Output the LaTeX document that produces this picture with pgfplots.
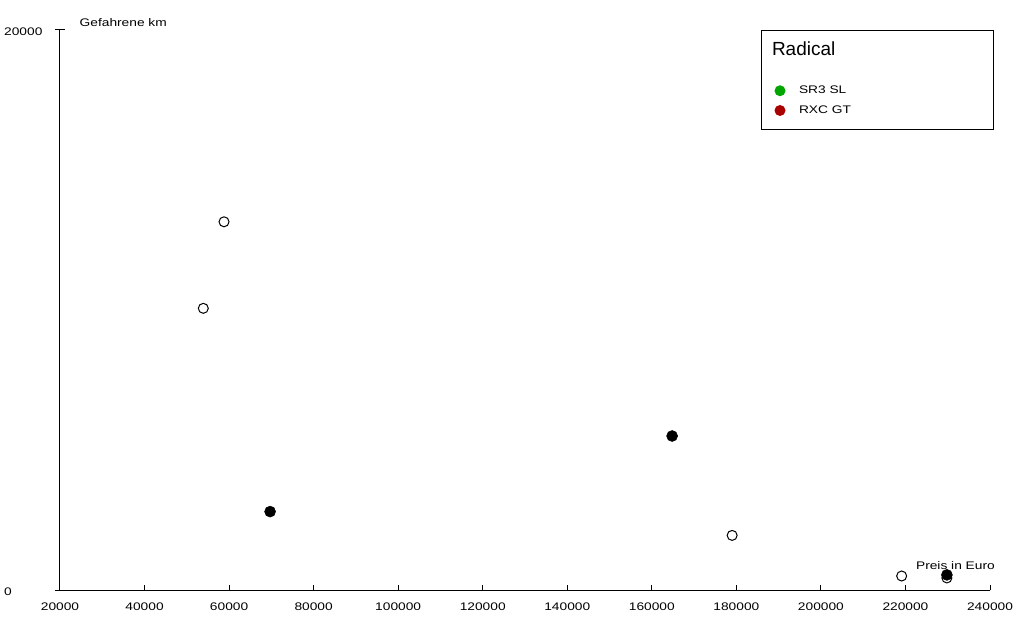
\documentclass[border=0pt]{standalone}
\usepackage{fontspec}
\setmainfont{Liberation Sans}[FakeStretch=1.25]
\newfontfamily\titlefont{Liberation Sans}
\usepackage{pgfplots}
\pgfplotsset{compat=1.18}
\definecolor{srgreen}{RGB}{0,165,0}
\definecolor{rxcred}{RGB}{170,0,0}

\begin{document}
\begin{tikzpicture}
\path[use as bounding box] (-60bp,-30bp) rectangle (960bp,590bp);
\begin{axis}[
  at={(0,0)}, anchor=south west,
  scale only axis, width=930bp, height=560bp,
  xmin=20000, xmax=240000, ymin=0, ymax=20000,
  axis x line=bottom, axis y line=left,
  axis line style={-, line width=1bp, black},
  xtick={20000,40000,...,240000},
  xticklabels={20000,40000,60000,80000,100000,120000,140000,160000,180000,200000,220000,240000},
  ytick={0,20000},
  yticklabels={0,20000},
  scaled ticks=false,
  tick align=inside,
  major tick length=5bp,
  tick style={line width=1bp, black},
  extra y ticks={0,20000},
  extra y tick labels={,},
  extra y tick style={tick align=outside},
  font=\fontsize{11bp}{13bp}\selectfont,
  xticklabel style={anchor=north, inner sep=0pt, yshift=-13bp},
  yticklabel style={anchor=west, inner sep=0pt, xshift=-56bp, yshift=-1.5bp},
  xlabel={Preis in Euro},
  ylabel={Gefahrene km},
  every axis x label/.style={at={(axis description cs:1,0)}, anchor=base east, inner sep=0pt, xshift=5bp, yshift=21bp},
  every axis y label/.style={at={(axis description cs:0,1)}, anchor=base west, inner sep=0pt, xshift=19.5bp, yshift=3bp},
  legend style={at={(axis description cs:1,1)}, anchor=north east, xshift=4bp,
    draw=black, line width=1bp, inner sep=0pt, row sep=0pt, column sep=3.5bp,
    nodes={inner sep=0pt}, font=\fontsize{11bp}{13bp}\selectfont},
  legend cell align=left,
]

% SR3 SL (hollow markers)
\addplot[only marks, mark=o, mark size=5bp, mark options={draw=black, fill=white, line width=1bp}, forget plot]
  coordinates {(58800,13150) (53900,10060) (179000,1950) (219100,500) (229800,430)};

% RXC GT (filled markers)
\addplot[only marks, mark=*, mark size=5.5bp, mark options={draw=black, fill=black, line width=0.5bp}, forget plot]
  coordinates {(69700,2800) (164800,5500) (229800,540)};

\addlegendimage{legend image code/.code={\path[draw=none, fill=none] (-19bp,-31.8bp) rectangle (15.5bp,18.7bp);}}
\addlegendentry{\makebox[194.5bp][l]{\hspace*{-27bp}{\titlefont\fontsize{19bp}{22bp}\selectfont Radical}}}
\addlegendimage{legend image code/.code={\path[draw=none, fill=none] (-19bp,-10bp) rectangle (15.5bp,9.75bp); \fill[draw=none, srgreen] (0,0) circle (5.5bp);}}
\addlegendentry{SR3 SL}
\addlegendimage{legend image code/.code={\path[draw=none, fill=none] (-19bp,-19bp) rectangle (15.5bp,9.75bp); \fill[draw=none, rxcred] (0,0) circle (5.5bp);}}
\addlegendentry{RXC GT}
\end{axis}
\end{tikzpicture}
\end{document}
